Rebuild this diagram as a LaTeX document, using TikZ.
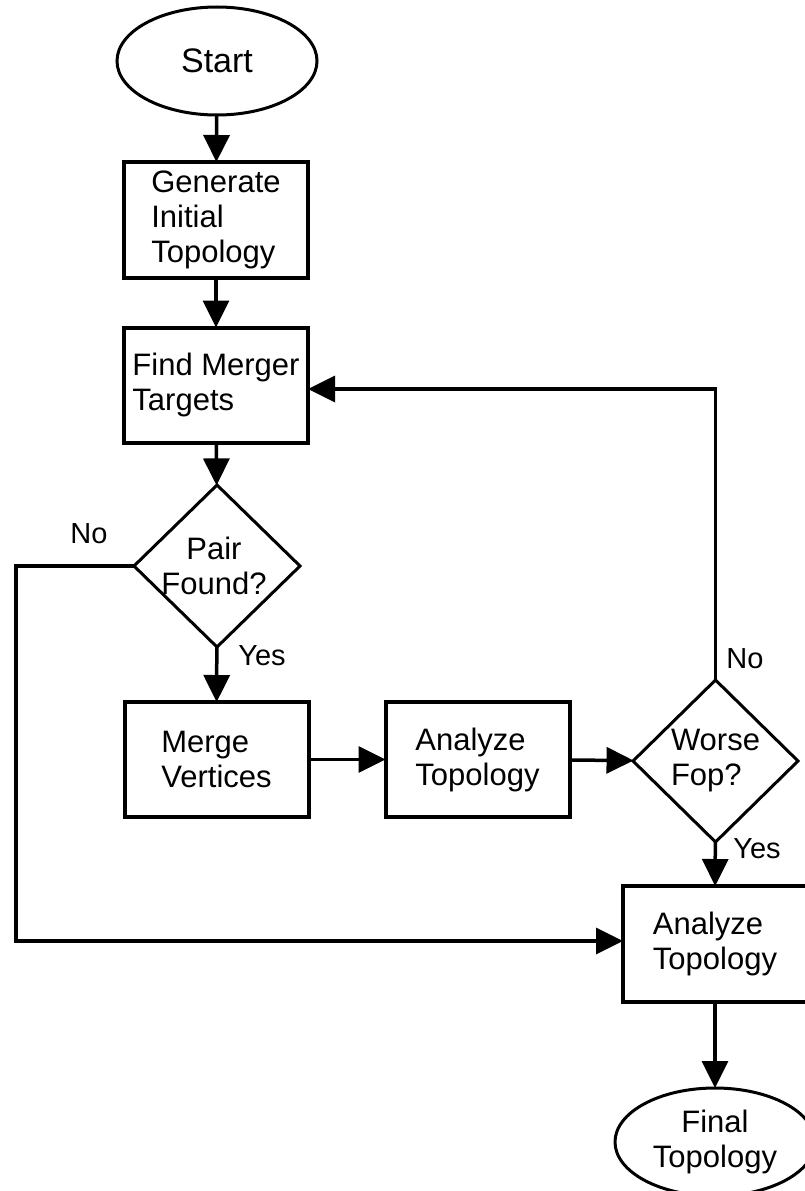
\documentclass[tikz,border=0pt]{standalone}
\usepackage{fontspec}
\setmainfont{Liberation Sans}
\usetikzlibrary{shapes.geometric,arrows.meta}
\begin{document}
\begin{tikzpicture}[x=1pt,y=-1pt,
  every node/.style={inner sep=0pt,outer sep=0pt,font=\fontsize{31pt}{35pt}\selectfont},
  procbox/.style={rectangle,draw,line width=4pt,minimum width=184pt,minimum height=116pt,align=left},
  termbox/.style={ellipse,draw,line width=3pt,minimum width=200pt,minimum height=108pt,align=center},
  decbox/.style={diamond,draw,line width=3pt,minimum width=166pt,minimum height=162pt},
  dectext/.style={align=left},
  lbl/.style={font=\fontsize{29pt}{33pt}\selectfont},
  conn/.style={line width=3.5pt,-{Triangle[length=27pt,width=26pt]}}
]
\useasboundingbox (0,0) rectangle (804,1191);

\node[termbox,font=\fontsize{34pt}{38pt}\selectfont] (start) at (217,61) {Start};
\node[procbox] (gen) at (216,220) {Generate\\Initial\\Topology};
\node[procbox,minimum height=115pt] (find) at (216,385) {Find Merger\\Targets};
\node[decbox] (pair) at (217,566) {};
\node[dectext,align=center] (pairT) at (214,566) {Pair\\Found?};
\node[procbox,minimum height=115pt] (merge) at (216.5,759.5) {Merge\\Vertices};
\node[procbox,minimum height=115pt] (an1) at (477.5,759.5) {Analyze\\Topology};
\node[decbox,minimum width=165pt] (worse) at (715.5,761) {};
\node[dectext] (worseT) at (715.5,761) {Worse\\Fop?};
\node[procbox] (an2) at (715,944) {Analyze\\Topology};
\node[termbox] (final) at (715,1142) {Final\\Topology};

\node[lbl] (no1) at (89,534) {No};
\node[lbl] (yes1) at (262,656) {Yes};
\node[lbl] (no2) at (745,659) {No};
\node[lbl] (yes2) at (757,849) {Yes};

\coordinate (lft) at (16,941);

\draw[conn] (start) -- (gen);
\draw[conn] (gen) -- (find);
\draw[conn] (find) -- (pair);
\draw[conn] (pair) -- (merge);
\draw[conn] (merge) -- (an1);
\draw[conn] (an1) -- (worse);
\draw[conn] (worse.north) |- ([yshift=-4pt]find.east);
\draw[conn] (worse) -- (an2);
\draw[conn] (pair.west) -| (lft) -- (an2.west |- lft);
\draw[conn] (an2) -- (final);
\end{tikzpicture}
\end{document}
